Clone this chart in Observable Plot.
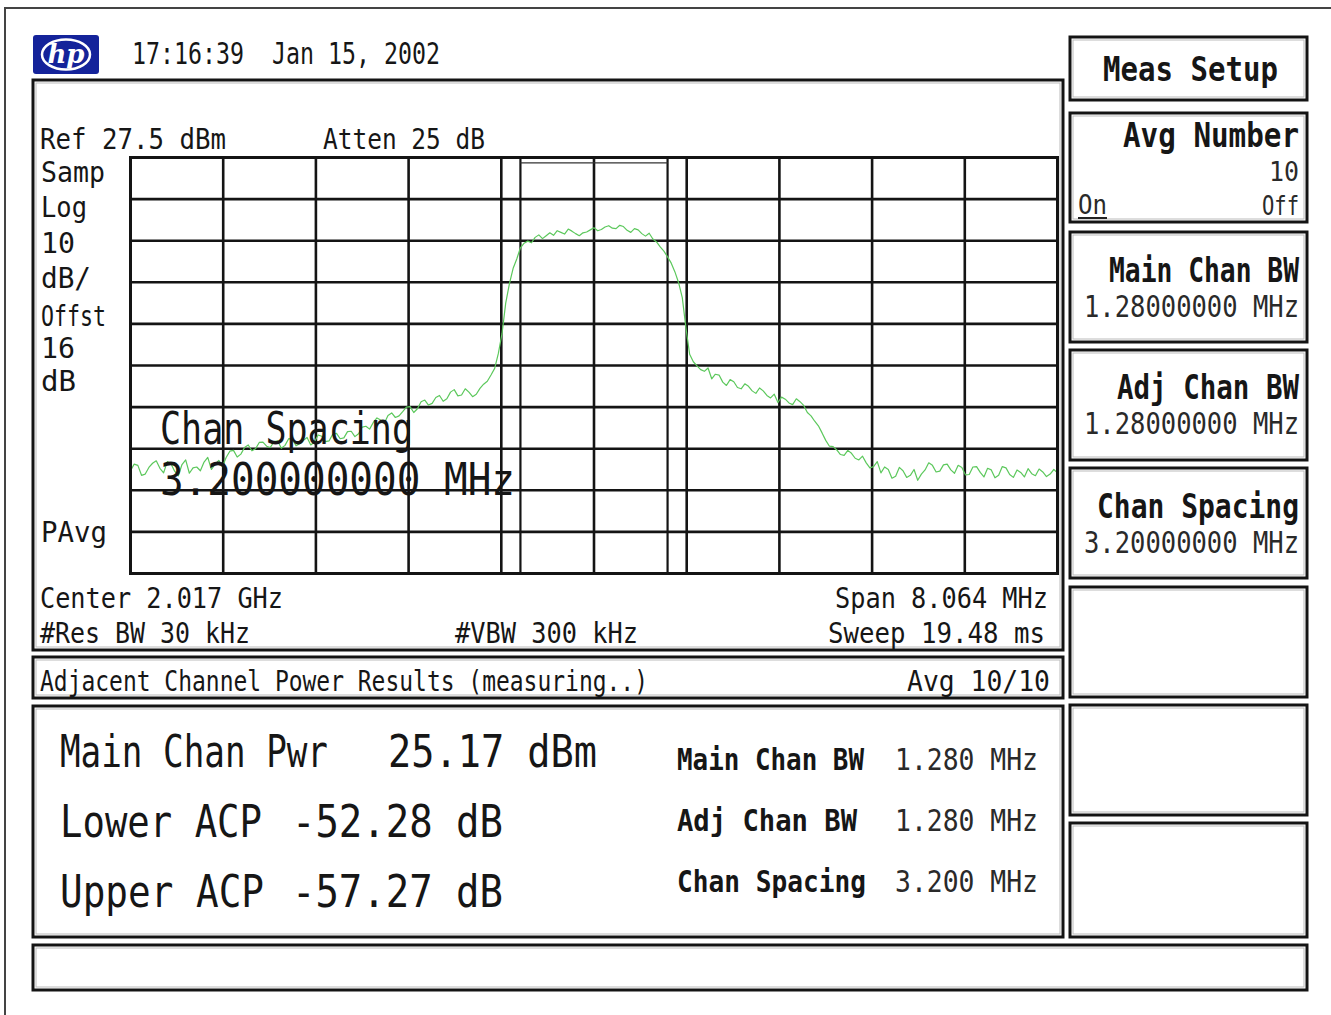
<!DOCTYPE html>
<html>
<head>
<meta charset="utf-8">
<script src="https://cdn.jsdelivr.net/npm/d3@7"></script>
<script src="https://cdn.jsdelivr.net/npm/@observablehq/plot@0.6"></script>
<style>
  html, body { margin: 0; padding: 0; background: #fff; }
  #wrap { position: relative; width: 1331px; height: 1015px; overflow: hidden; background: #fff; }
  #wrap > svg { position: absolute; left: 0; top: 0; }
  #overlay text { font-family: "DejaVu Sans Mono", monospace; fill: #161616; white-space: pre; }
</style>
</head>
<body>
<div id="wrap"></div>
<script>
// ---- Instrument settings ----
const centerGHz = 2.017;
const spanMHz = 8.064;
const refLevelDbm = 27.5;
const dbPerDiv = 10;
const mainChanBwMHz = 1.28;

// ---- Measured trace (dBm), one value per sweep point across the span ----
const sweepLevels = [
  -47.8,-46.2,-46.5,-48.9,-48.6,-47.0,-46.0,-45.4,-47.2,-48.3,-45.6,-46.1,-47.9,-49.0,
  -46.3,-45.2,-48.4,-47.1,-46.9,-47.8,-45.7,-44.6,-47.5,-46.2,-45.3,-46.8,
  -44.6,-43.1,-42.9,-44.5,-43.8,-42.2,-41.6,-43.0,-42.5,-41.0,-40.9,-41.9,
  -42.2,-40.8,-40.6,-42.4,-41.7,-40.1,-40.2,-41.8,-41.3,-40.5,-39.8,-41.6,-40.9,-39.2,
  -39.5,-40.8,-40.6,-39.0,-38.8,-40.1,-39.9,-38.4,-38.3,-39.6,-38.9,-37.3,
  -37.1,-37.8,-36.2,-35.1,-35.6,-36.4,-34.5,-33.9,-35.0,-34.6,-33.6,-32.5,-32.4,-33.8,
  -32.9,-31.2,-30.8,-32.0,-31.6,-30.2,-29.7,-31.1,-30.5,-28.9,-28.3,-29.8,
  -29.6,-28.1,-28.9,-30.0,-29.4,-28.0,-27.0,-26.3,-24.8,-23.2,
  -19.6,-14.8,-7.5,-2.9,0.8,3.1,5.8,6.9,7.4,7.0,8.3,8.9,8.0,8.7,
  9.4,8.8,9.9,9.5,9.1,10.3,9.8,9.2,8.7,9.4,9.6,10.1,
  10.6,9.9,10.2,10.8,11.1,10.5,10.4,11.2,10.9,10.0,9.5,10.4,
  10.1,9.2,8.6,9.3,7.9,7.2,6.0,5.0,3.6,2.1,0.0,-2.6,-6.2,-13.5,
  -19.8,-21.6,-22.6,-23.5,-23.9,-23.1,-25.7,-24.6,-24.8,-26.5,-27.3,-25.9,
  -26.4,-27.8,-28.1,-26.9,-27.5,-28.6,-29.2,-27.9,-28.6,-29.7,-30.3,-29.4,-31.4,-30.1,
  -30.6,-31.5,-31.9,-30.5,-31.2,-32.1,-33.8,-34.6,-35.9,-37.0,-38.7,-40.5,
  -41.9,-42.0,-42.8,-43.9,-44.1,-42.9,-43.6,-44.8,-45.2,-44.3,-45.9,-47.1,-46.8,-45.6,
  -48.3,-46.9,-47.5,-49.6,-49.1,-47.0,-47.8,-49.4,-48.9,-47.5,-50.1,-48.6,
  -47.6,-45.9,-46.5,-48.1,-47.9,-46.4,-46.2,-47.6,-48.4,-46.5,-47.0,-48.8,-48.7,-46.9,
  -46.8,-48.2,-49.3,-47.2,-47.6,-49.5,-48.9,-46.8,-47.1,-48.7,-49.4,-47.6,
  -48.2,-49.3,-47.3,-48.5,-49.0,-47.4,-48.1,-49.2,-48.6,-47.5,-48.3
];

// graticule lines (MHz offset from center, dBm)
const gridFreqs = [-3.2256,-2.4192,-1.6128,-0.8064,0,0.8064,1.6128,2.4192,3.2256];
const gridLevels = [17.5,7.5,-2.5,-12.5,-22.5,-32.5,-42.5,-52.5,-62.5];
const chanEdges = [-mainChanBwMHz/2, mainChanBwMHz/2];

// ---- texts ----
const headerText = "17:16:39  Jan 15, 2002";
const leftLabels = ["Samp","Log","10","dB/","Offst","16","dB"];
const resultsRows = [
  ["Main Chan Pwr","25.17 dBm"],
  ["Lower ACP","-52.28 dB"],
  ["Upper ACP","-57.27 dB"]
];
const setupRows = [
  ["Main Chan BW","1.280 MHz"],
  ["Adj Chan BW","1.280 MHz"],
  ["Chan Spacing","3.200 MHz"]
];
const softkeys = [
  ["Meas Setup", ""],
  ["Avg Number", "10"],
  ["Main Chan BW", "1.28000000 MHz"],
  ["Adj Chan BW", "1.28000000 MHz"],
  ["Chan Spacing", "3.20000000 MHz"],
  ["",""],["",""],["",""]
];

const trace = sweepLevels.map((p, i) => ({
  f: -spanMHz / 2 + i * spanMHz / (sweepLevels.length - 1),
  p
}));

const W = 1331, H = 1015;
const gx0 = 130, gx1 = 1057, gy0 = 157, gy1 = 573;

const chart = Plot.plot({
  width: W, height: H,
  marginLeft: gx0, marginRight: W - gx1, marginTop: gy0, marginBottom: H - gy1,
  x: {domain: [-spanMHz/2, spanMHz/2], axis: null},
  y: {domain: [refLevelDbm - 10*dbPerDiv, refLevelDbm], axis: null},
  marks: [
    Plot.ruleX(gridFreqs, {stroke: "#141414", strokeWidth: 2.6}),
    Plot.ruleY(gridLevels, {stroke: "#141414", strokeWidth: 2.6}),
    Plot.ruleX(chanEdges, {stroke: "#141414", strokeWidth: 2.2}),
    Plot.link([{x1: chanEdges[0], x2: chanEdges[1], y: refLevelDbm - 1.3}], {x1: "x1", x2: "x2", y1: "y", y2: "y", stroke: "#333", strokeWidth: 1.2}),
    Plot.line(trace, {x: "f", y: "p", stroke: "#5cc85c", strokeWidth: 1.2}),
    Plot.frame({stroke: "#141414", strokeWidth: 3})
  ]
});
document.getElementById("wrap").appendChild(chart);

// ---- overlay: instrument display text and boxes ----
const svg = d3.select("#wrap").append("svg")
  .attr("id", "overlay").attr("width", W).attr("height", H);

function box(x, y, w, h) {
  svg.append("rect").attr("x", x).attr("y", y).attr("width", w).attr("height", h)
    .attr("fill", "none").attr("stroke", "#141414").attr("stroke-width", 3);
  svg.append("rect").attr("x", x + 3).attr("y", y + 3).attr("width", w - 6).attr("height", h - 6)
    .attr("fill", "none").attr("stroke", "#bbb").attr("stroke-width", 1);
}
// condensed instrument font: shrink the font so its natural width fits, then stretch it vertically
function txt(s, x, y, w, fs, opts = {}) {
  const fsNat = Math.min(fs, w / (s.length * 0.602));
  const sy = fs / fsNat;
  const x0 = opts.anchor === "end" ? x - w : x;
  const t = svg.append("text").text(s).attr("x", x0).attr("y", y).attr("font-size", fsNat)
    .attr("textLength", w).attr("lengthAdjust", "spacingAndGlyphs")
    .attr("transform", `translate(0,${y}) scale(1,${sy}) translate(0,${-y})`);
  if (opts.bold) t.attr("font-weight", "bold");
  if (opts.fill) t.style("fill", opts.fill);
  return t;
}

// outer frame lines
svg.append("path").attr("d", "M5,1015 L5,8 L1331,8").attr("fill", "none").attr("stroke", "#444").attr("stroke-width", 2);

// hp logo
const logo = svg.append("g");
logo.append("rect").attr("x", 33).attr("y", 35).attr("width", 66).attr("height", 39).attr("rx", 3).attr("fill", "#14239a");
logo.append("ellipse").attr("cx", 66).attr("cy", 54.5).attr("rx", 24).attr("ry", 15).attr("fill", "none").attr("stroke", "#fff").attr("stroke-width", 2.5);
logo.append("text").text("hp").attr("x", 66).attr("y", 63).attr("text-anchor", "middle")
  .attr("font-size", 26).attr("font-style", "italic").attr("font-weight", "bold")
  .style("fill", "#fff").style("font-family", "DejaVu Serif, serif");

txt(headerText, 132, 64, 308, 30);

// panels
box(33, 80, 1030, 570);
box(33, 657, 1030, 41);
box(33, 706, 1030, 231);
box(33, 945, 1274, 45);

// soft keys
const skY = [37, 113, 232, 350, 468, 587, 705, 823];
const skH = [63, 109, 110, 110, 110, 110, 110, 114];
skY.forEach((y, i) => box(1070, y, 237, skH[i]));

// graph annotations
txt("Ref 27.5 dBm", 40, 149, 186, 28);
txt("Atten 25 dB", 323, 149, 162, 28);
const leftY = [182, 217, 253, 288, 326, 358, 391];
const leftW = [64, 46, 34, 50, 65, 34, 35];
leftLabels.forEach((s, i) => txt(s, 41, leftY[i], leftW[i], 28));
txt("PAvg", 41, 542, 66, 28);
txt("Center 2.017 GHz", 40, 608, 243, 28);
txt("#Res BW 30 kHz", 40, 643, 210, 28);
txt("#VBW 300 kHz", 455, 643, 183, 28);
txt("Span 8.064 MHz", 1048, 608, 213, 28, {anchor: "end"});
txt("Sweep 19.48 ms", 1045, 643, 217, 28, {anchor: "end"});
txt("Chan Spacing", 160, 444, 253, 44);
txt("3.200000000 MHz", 160, 495, 355, 44);

txt("Adjacent Channel Power Results (measuring..)", 40, 691, 608, 28);
txt("Avg 10/10", 1050, 691, 143, 28, {anchor: "end"});

// results
const resY = [767, 837, 907];
const resW = [[268, 209], [202, 211], [204, 211]];
const resX2 = [388, 292, 292];
resultsRows.forEach((r, i) => {
  txt(r[0], 60, resY[i], resW[i][0], 44);
  txt(r[1], resX2[i], resY[i], resW[i][1], 44);
});
const setY = [770, 831, 892];
const setW = [187, 180, 189];
setupRows.forEach((r, i) => {
  txt(r[0], 677, setY[i], setW[i], 30, {bold: true});
  txt(r[1], 895, setY[i], 143, 30, {fill: "#2a2a2a"});
});

// softkey texts
txt(softkeys[0][0], 1103, 81, 175, 34, {bold: true});
txt(softkeys[1][0], 1299, 147, 176, 34, {bold: true, anchor: "end"});
txt(softkeys[1][1], 1299, 181, 30, 27, {anchor: "end", fill: "#2a2a2a"});
txt("On", 1078, 214, 29, 27, {fill: "#2a2a2a"});
svg.append("line").attr("x1", 1078).attr("x2", 1107).attr("y1", 218).attr("y2", 218).attr("stroke", "#222").attr("stroke-width", 2);
txt("Off", 1299, 215, 37, 27, {anchor: "end", fill: "#2a2a2a"});
const skTitleY = [282, 399, 518];
const skTitleW = [190, 182, 202];
[2, 3, 4].forEach((k, j) => {
  txt(softkeys[k][0], 1299, skTitleY[j], skTitleW[j], 34, {bold: true, anchor: "end"});
  txt(softkeys[k][1], 1299, skTitleY[j] + 35, 215, 31, {anchor: "end", fill: "#2a2a2a"});
});
</script>
</body>
</html>
